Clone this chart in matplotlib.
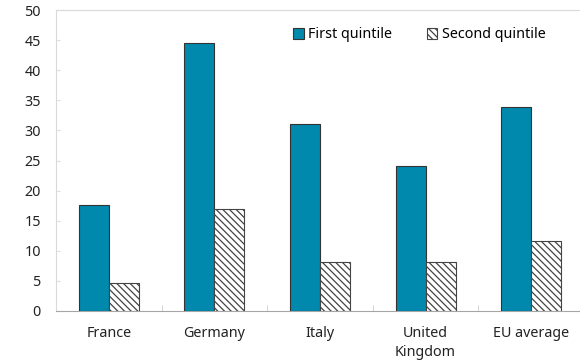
import matplotlib
matplotlib.use("Agg")
import matplotlib.pyplot as plt
import numpy as np

plt.rcParams['font.family'] = ['Noto Sans', 'DejaVu Sans']
plt.rcParams['hatch.linewidth'] = 0.9

categories = ["France", "Germany", "Italy", "United\nKingdom", "EU average"]
first_quintile = [17.6, 44.5, 31.0, 24.1, 33.9]
second_quintile = [4.6, 16.9, 8.1, 8.1, 11.6]
series_names = ["First quintile", "Second quintile"]

fig = plt.figure(figsize=(5.8, 3.62), dpi=100)
ax = fig.add_axes([56/580, 1 - 311/362, (584-56)/580, (311-10)/362])

x = np.arange(len(categories))
w = 0.285
teal = "#0089ad"
ax.bar(x - w/2, first_quintile, w, color=teal, edgecolor="#333333", linewidth=0.8, label=series_names[0], zorder=3)
ax.bar(x + w/2, second_quintile, w, color="white", edgecolor="#444444", hatch="\\\\\\\\\\", linewidth=0.8, label=series_names[1], zorder=3)

fs = 10.3
ax.set_xlim(-0.5, len(categories) - 0.5)
ax.set_ylim(0, 50)
ax.set_yticks(np.arange(0, 51, 5))
ax.set_xticks(x)
ax.set_xticklabels(categories, fontsize=fs, color="#222222", linespacing=1.3)
ax.set_xticks(np.arange(0.5, len(categories) - 0.5, 1), minor=True)
ax.tick_params(axis='x', which='major', length=0, pad=11)
ax.tick_params(axis='x', which='minor', direction='in', length=4, color="#cccccc")
ax.tick_params(axis='y', direction='in', length=3, color="#dddddd", labelsize=fs, labelcolor="#222222", pad=11)

for s in ["top", "left", "right"]:
    ax.spines[s].set_color("#d9d9d9")
ax.spines["bottom"].set_color("#a6a6a6")

leg = ax.legend(loc="upper left", bbox_to_anchor=(0.425, 0.985), ncol=2, frameon=False,
                fontsize=fs, handlelength=0.75, handleheight=0.75, columnspacing=2.4, handletextpad=0.3)

fig.savefig("out.png", dpi=100)
